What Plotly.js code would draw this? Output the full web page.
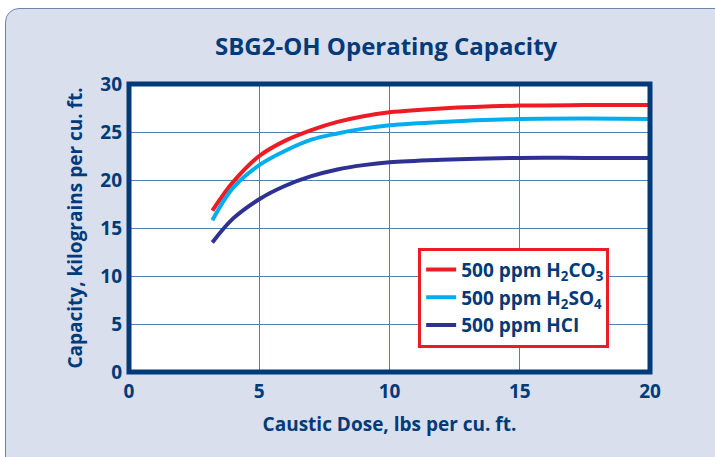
<!DOCTYPE html>
<html><head><meta charset="utf-8">
<script src="https://cdn.plot.ly/plotly-3.0.1.min.js"></script>
<style>
html,body{margin:0;padding:0;background:#fff;overflow:hidden}
#panel{position:absolute;left:5px;top:8px;width:730px;height:470px;background:#d9dfec;border:1px solid #6f84ad;border-radius:14px}
#chart{position:absolute;left:0;top:0;width:715px;height:457px}
</style></head>
<body>
<div id="panel"></div>
<div id="chart"></div>
<script>
const dose  = [3.2, 4, 5, 6, 7, 8, 9, 10, 12, 15, 17.5, 20];
const h2co3 = [16.8, 19.8, 22.5, 24.1, 25.2, 26.05, 26.65, 27.05, 27.45, 27.75, 27.8, 27.8];
const h2so4 = [15.8, 19.2, 21.55, 23.05, 24.2, 24.85, 25.35, 25.7, 26.05, 26.35, 26.4, 26.35];
const hcl   = [13.5, 16.0, 18.0, 19.4, 20.4, 21.1, 21.55, 21.85, 22.1, 22.3, 22.3, 22.3];
const seriesNames = ['500 ppm H<sub>2</sub>CO<sub>3</sub>', '500 ppm H<sub>2</sub>SO<sub>4</sub>', '500 ppm HCI'];
const xTicks = [0, 5, 10, 15, 20];
const yTicks = [0, 5, 10, 15, 20, 25, 30];

const navy = '#003a78';
const font = 'Open Sans, sans-serif';
const colors = ['#ed1c24', '#00aeef', '#2e3192'];
const ys = [h2co3, h2so4, hcl];
const traces = ys.map((y, i) => ({
  x: dose, y: y, type: 'scatter', mode: 'lines', name: seriesNames[i],
  line: {color: colors[i], width: 4, shape: 'spline', smoothing: 1}
}));

const layout = {
  width: 715, height: 457,
  paper_bgcolor: 'rgba(0,0,0,0)', plot_bgcolor: '#fff',
  margin: {l: 129, r: 65, t: 84, b: 85},
  font: {family: font, color: navy},
  title: {text: '<b>SBG2-OH Operating Capacity</b>', x: 0.54, xanchor: 'center', y: 0.897, yanchor: 'middle',
          font: {size: 24, family: font, color: navy}},
  xaxis: {range: [0, 20], tickvals: xTicks, ticks: '', showgrid: true, gridcolor: '#5a7cab', gridwidth: 1,
          zeroline: false, showline: false, tickfont: {size: 19, family: font, color: navy},
          ticklabelstandoff: 6,
          title: {text: '<b>Caustic Dose, lbs per cu. ft.</b>', font: {size: 19, family: font, color: navy}, standoff: 14}},
  yaxis: {range: [0, 30], tickvals: yTicks, ticks: '', showgrid: true, gridcolor: '#5a7cab', gridwidth: 1,
          zeroline: false, showline: false, tickfont: {size: 19, family: font, color: navy},
          ticklabelstandoff: 6,
          title: {text: '<b>Capacity, kilograins per cu. ft.</b>', font: {size: 19, family: font, color: navy}, standoff: 12}},
  legend: {x: 0.555, y: 0.258, xanchor: 'left', yanchor: 'middle', bgcolor: '#fff', bordercolor: '#ed1c24', borderwidth: 3,
           font: {size: 19, family: font, color: navy}, tracegroupgap: 0, itemwidth: 30},
  shapes: [{type: 'rect', xref: 'paper', yref: 'paper', x0: 0, x1: 1, y0: 0, y1: 1,
            line: {color: navy, width: 5}, layer: 'above'}]
};
Plotly.newPlot('chart', traces, layout, {displayModeBar: false, staticPlot: true}).then(() => {
  document.querySelectorAll('.legendtext').forEach(t => t.style.fontWeight = 'bold');
  document.querySelectorAll('.xtick text, .ytick text').forEach(t => t.style.fontWeight = 'bold');
});
</script>
</body></html>
